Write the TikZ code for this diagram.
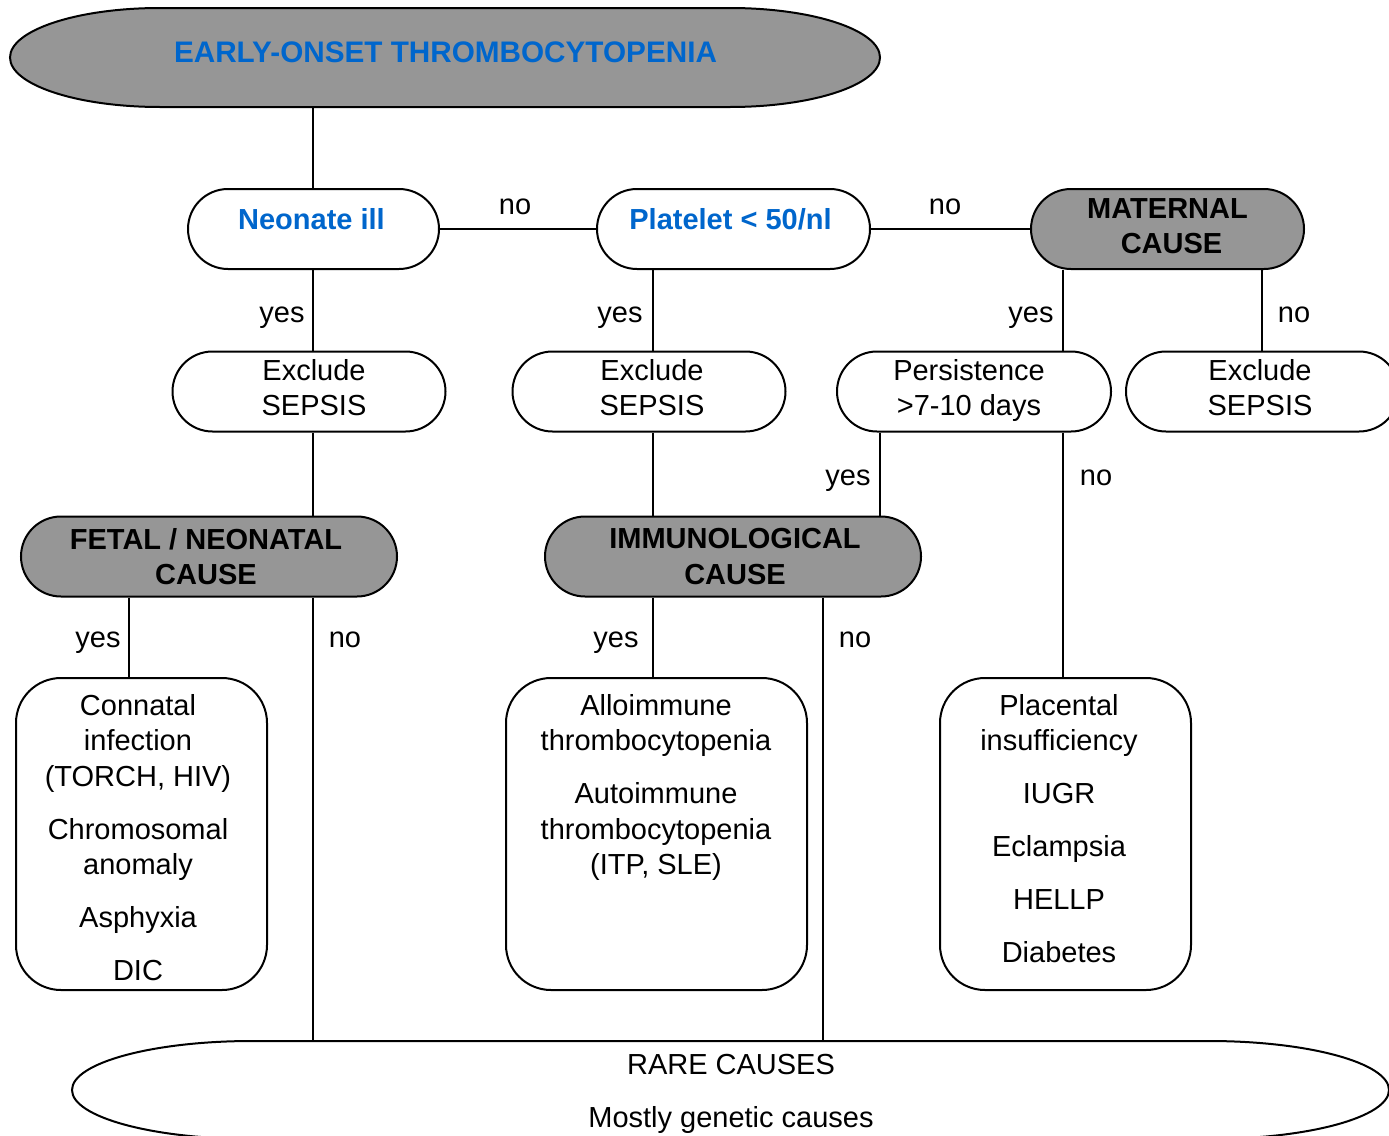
\documentclass[tikz,border=0pt]{standalone}
\usepackage{fontspec}
\setmainfont{Liberation Sans}
\definecolor{grayfill}{HTML}{969696}
\definecolor{tblue}{HTML}{0066CC}
\newcommand\myfs{\fontsize{29}{35.5}\selectfont}
\begin{document}
\begin{tikzpicture}[x=1pt,y=-1pt,
  boxbase/.style={draw, line width=2pt, rounded corners=40pt, minimum height=80pt, inner sep=0pt, font=\myfs},
  stad/.style={boxbase, align=center},
  stadhl/.style={stad, fill=grayfill, font=\myfs\bfseries},
  stadone/.style={boxbase, font=\myfs\bfseries, text=tblue, text depth=20pt},
  tallbox/.style={draw, line width=2pt, rounded corners=45pt, inner sep=0pt, minimum height=312pt},
  txt/.style={font=\myfs, inner sep=0pt, align=center, anchor=north},
  lab/.style={font=\myfs, inner sep=0pt, anchor=base},
  conn/.style={line width=1.6pt}]
\useasboundingbox (0,0) rectangle (1389,1135);
\clip (0,0) rectangle (1389,1135);

% outer shapes drawn directly
\draw[line width=2pt, fill=grayfill] (160,8) -- (730,8)
  arc[start angle=90, end angle=-90, x radius=150pt, y radius=49.5pt] -- (160,107)
  arc[start angle=270, end angle=90, x radius=150pt, y radius=49.5pt] -- cycle;
\draw[line width=2pt] (252,1041) -- (1209,1041)
  arc[start angle=90, end angle=-90, x radius=180pt, y radius=49pt] -- (252,1139)
  arc[start angle=270, end angle=90, x radius=180pt, y radius=49pt] -- cycle;

\node[inner sep=0pt, minimum width=870pt, minimum height=99pt, font=\fontsize{29.7}{35.5}\selectfont\bfseries, text=tblue, text depth=11pt] (top) at (445.5,57.5) {EARLY-ONSET THROMBOCYTOPENIA};
\node[inner sep=0pt, minimum width=1317pt, minimum height=98pt] (rare) at (730.5,1090) {};
\node[txt] (rareT) at (731,1054) {RARE CAUSES\\[17.5pt]Mostly genetic causes};

\node[stadone, minimum width=251pt] (neo) at (313.5,229) {Neonate ill\hspace*{4pt}};
\node[stadone, minimum width=273pt] (plt) at (733.5,229) {Platelet < 50/nl\hspace*{6pt}};
\node[stadhl, minimum width=273pt, text depth=6pt] (mat) at (1167.5,229) {MATERNAL\\\hspace*{8pt}CAUSE};

\node[stad, minimum width=273pt, text depth=8pt] (ex1) at (309,391.5) {\hspace*{10pt}Exclude\\\hspace*{10pt}SEPSIS};
\node[stad, minimum width=273pt, text depth=8pt] (ex2) at (649,391.5) {\hspace*{6pt}Exclude\\\hspace*{6pt}SEPSIS};
\node[stad, minimum width=274pt, text depth=8pt] (per) at (974,391.5) {Persistence\hspace*{10pt}\\>7-10 days\hspace*{10pt}};
\node[stad, minimum width=273pt, text depth=8pt] (ex3) at (1262.5,391.5) {Exclude\hspace*{5pt}\\SEPSIS\hspace*{5pt}};

\node[stadhl, minimum width=376pt, text depth=-3pt] (fet) at (209,556.5) {FETAL / NEONATAL\hspace*{6pt}\\CAUSE\hspace*{6pt}};
\node[stadhl, minimum width=376pt, text depth=-4pt] (imm) at (733,556.5) {\hspace*{4pt}IMMUNOLOGICAL\\\hspace*{4pt}CAUSE};

\node[tallbox, minimum width=251pt] (con) at (141.5,834) {};
\node[tallbox, minimum width=301pt] (all) at (656.5,834) {};
\node[tallbox, minimum width=251pt] (pla) at (1065.5,834) {};

\node[txt] (conT) at (138,694) {Connatal\\infection\\(TORCH, HIV)\\[17.5pt]Chromosomal\\anomaly\\[17.5pt]Asphyxia\\[17pt]DIC};
\node[txt] (allT) at (656,694) {Alloimmune\\thrombocytopenia\\[17.5pt]Autoimmune\\thrombocytopenia\\(ITP, SLE)};
\node[txt] (plaT) at (1059,694) {Placental\\insufficiency\\[17pt]IUGR\\[17.5pt]Eclampsia\\[17.5pt]HELLP\\[17.5pt]Diabetes};

% x positions of vertical connectors
\coordinate (xa) at (313,0);
\coordinate (xb) at (653,0);
\coordinate (xc) at (1063,0);
\coordinate (xd) at (1262,0);
\coordinate (xe) at (880,0);
\coordinate (xf) at (129,0);
\coordinate (xg) at (823,0);

\draw[conn] (top.south -| xa) -- (neo.north -| xa);
\draw[conn] (neo.east) -- (plt.west);
\draw[conn] (plt.east) -- (mat.west);
\draw[conn] (neo.south -| xa) -- (ex1.north -| xa);
\draw[conn] (ex1.south -| xa) -- (fet.north -| xa);
\draw[conn] (plt.south -| xb) -- (ex2.north -| xb);
\draw[conn] (ex2.south -| xb) -- (imm.north -| xb);
\draw[conn] (mat.south -| xc) -- (per.north -| xc);
\draw[conn] (mat.south -| xd) -- (ex3.north -| xd);
\draw[conn] (per.south -| xe) -- (imm.north -| xe);
\draw[conn] (per.south -| xc) -- (pla.north -| xc);
\draw[conn] (fet.south -| xf) -- (con.north -| xf);
\draw[conn] (fet.south -| xa) -- (rare.north -| xa);
\draw[conn] (imm.south -| xb) -- (all.north -| xb);
\draw[conn] (imm.south -| xg) -- (rare.north -| xg);

% branch labels
\node[lab] (l1) at (515,214) {no};
\node[lab] (l2) at (945,214) {no};
\node[lab] (l3) at (282,322) {yes};
\node[lab] (l4) at (620,322) {yes};
\node[lab] (l5) at (1031,322) {yes};
\node[lab] (l6) at (1294,322) {no};
\node[lab] (l7) at (848,485) {yes};
\node[lab] (l8) at (1096,485) {no};
\node[lab] (l9) at (98,647) {yes};
\node[lab] (l10) at (345,647) {no};
\node[lab] (l11) at (616,647) {yes};
\node[lab] (l12) at (855,647) {no};
\end{tikzpicture}
\end{document}
